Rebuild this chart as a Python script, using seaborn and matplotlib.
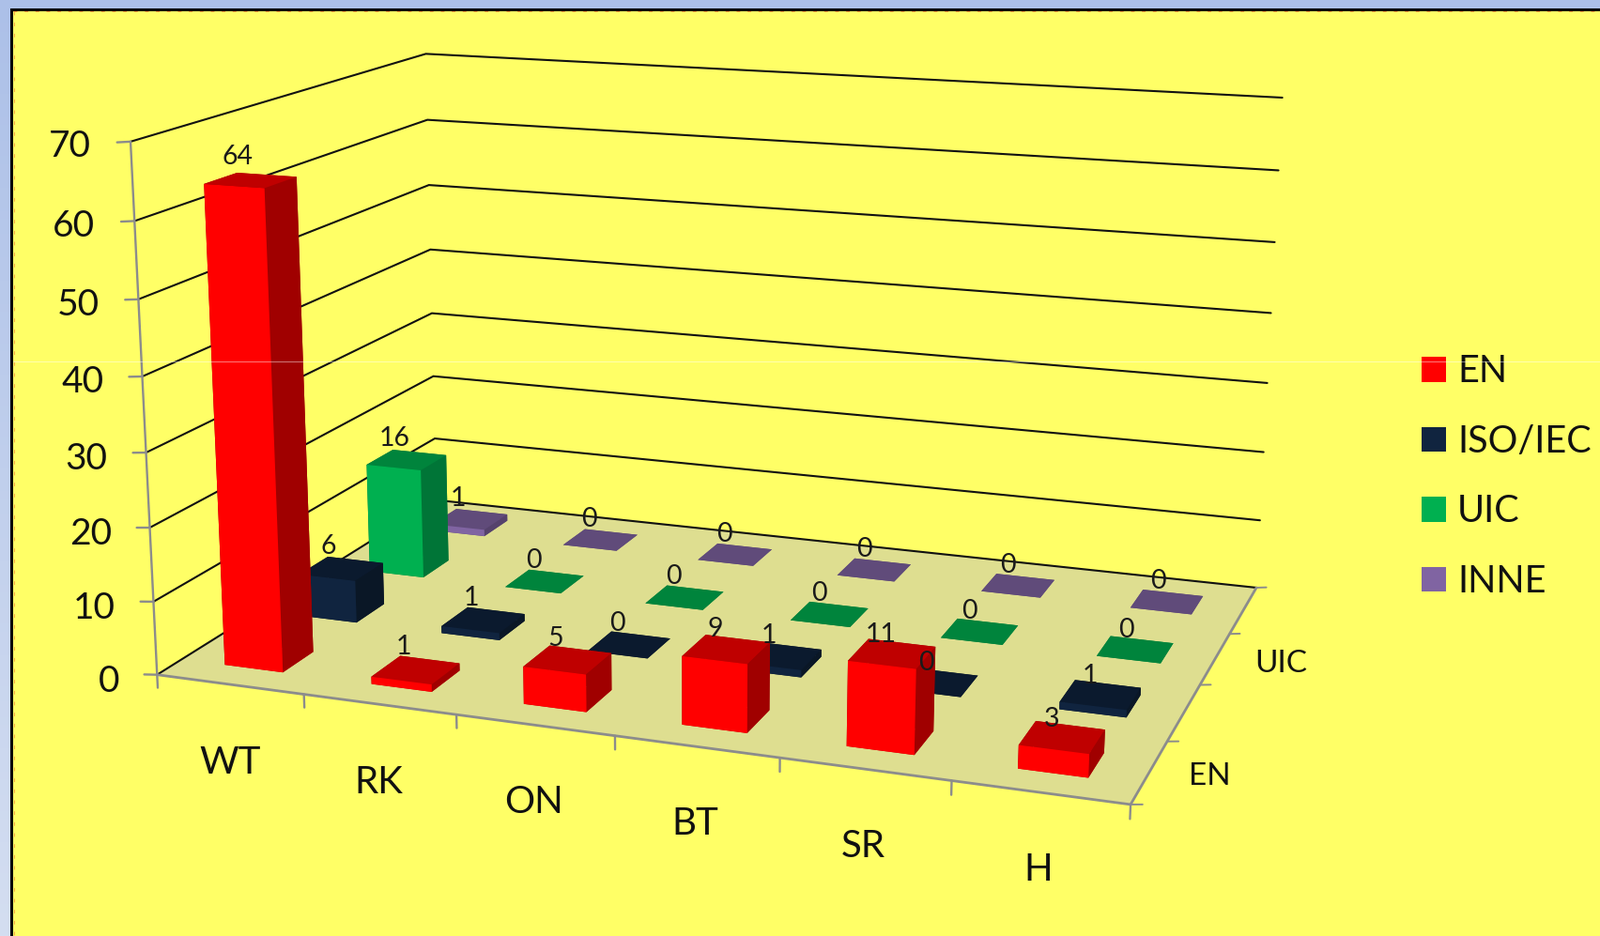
import numpy as np
import pandas as pd
import seaborn as sns
import matplotlib
matplotlib.use("Agg")
import matplotlib.pyplot as plt
from matplotlib.lines import Line2D
from matplotlib.patches import Patch, Rectangle
from mpl_toolkits.mplot3d.art3d import Poly3DCollection

# Chart data
categories = ["WT", "RK", "ON", "BT", "SR", "H"]
series_names = ["EN", "ISO/IEC", "UIC", "INNE"]
en_values = [64, 1, 5, 9, 11, 3]
iso_values = [6, 1, 0, 1, 0, 1]
uic_values = [16, 0, 0, 0, 0, 0]
inne_values = [1, 0, 0, 0, 0, 0]
z_ticks = [0, 10, 20, 30, 40, 50, 60, 70]
depth_tick_labels = ["EN", "", "UIC", ""]

# Bar shading: front, top and side face per series
front_colors = ["#FF0000", "#10243F", "#00B050", "#8064A2"]
top_colors = ["#BF0000", "#0B1A2E", "#00843C", "#604B7A"]
side_colors = ["#A00000", "#0A1726", "#007537", "#55426C"]

WIDTH, HEIGHT = 1704, 997
GRID_COLOR = "#111111"
AXIS_COLOR = "#8C8C8C"
FLOOR_COLOR = "#DEDE90"
PAGE_COLOR = "#FFFF66"
TEXT_COLOR = "#111111"

# Camera calibration: box coordinates (category, series, value) and their
# pixel location in the figure, used to solve a pinhole projection.
box_points = np.array([
    (0, 0, 0), (6, 0, 0), (6, 4, 0), (0, 4, 0),
    (0, 0, 70), (0, 4, 70), (6, 4, 70),
    (0, 0, 30), (0, 4, 30), (6, 4, 30), (0, 4, 10), (6, 4, 10),
    (1, 0, 0), (2, 0, 0), (3, 0, 0), (4, 0, 0), (5, 0, 0),
    (6, 1, 0), (6, 2, 0), (6, 3, 0),
], dtype=float)
pixel_points = np.array([
    (167.2, 718.7), (1204.5, 856.0), (1337.5, 626.0), (464.5, 532.5),
    (138.5, 150.7), (453.5, 57.7), (1365.7, 104.0),
    (156.0, 482.0), (460.0, 333.7), (1350.0, 407.6), (463.0, 466.7), (1342.3, 554.0),
    (323.4, 739.6), (486.3, 761.6), (655.6, 784.0), (830.8, 806.7), (1013.0, 831.7),
    (1242.4, 790.0), (1278.0, 730.0), (1309.4, 675.7),
], dtype=float)


def solve_camera(world, image):
    """Direct linear transform from box coordinates to pixels."""
    w_scale = np.array([6.0, 4.0, 70.0])
    i_scale = np.array([WIDTH, HEIGHT], dtype=float)
    rows = []
    for (X, Y, Z), (u, v) in zip(world / w_scale, image / i_scale):
        rows.append([X, Y, Z, 1, 0, 0, 0, 0, -u * X, -u * Y, -u * Z, -u])
        rows.append([0, 0, 0, 0, X, Y, Z, 1, -v * X, -v * Y, -v * Z, -v])
    p = np.linalg.svd(np.array(rows))[2][-1].reshape(3, 4)
    p = np.diag([WIDTH, HEIGHT, 1.0]) @ p @ np.diag([*(1 / w_scale), 1.0])
    if (p @ np.array([3.0, 2.0, 0.0, 1.0]))[2] < 0:
        p = -p
    return p


pixel_camera = solve_camera(box_points, pixel_points)


def to_px(x, y, z):
    """Project a box coordinate to figure pixels, measured from the top left."""
    u, v, w = pixel_camera @ np.array([x, y, z, 1.0])
    return u / w, v / w


sns.set_theme(style="white")
plt.rcParams["font.family"] = ["Lato", "Open Sans", "DejaVu Sans"]

values = pd.DataFrame(
    {"EN": en_values, "ISO/IEC": iso_values, "UIC": uic_values, "INNE": inne_values},
    index=categories,
)
palette = sns.color_palette(front_colors)

fig = plt.figure(figsize=(WIDTH / 100, HEIGHT / 100), dpi=100)
fig.patch.set_facecolor("#B8CAEB")


def px_rect(x0, y0, x1, y1, color, z):
    fig.add_artist(Rectangle((x0 / WIDTH, 1 - y1 / HEIGHT), (x1 - x0) / WIDTH, (y1 - y0) / HEIGHT,
                             transform=fig.transFigure, facecolor=color, edgecolor="none", zorder=z))


def px_line(x0, y0, x1, y1, z, **kw):
    fig.add_artist(Line2D([x0 / WIDTH, x1 / WIDTH], [1 - y0 / HEIGHT, 1 - y1 / HEIGHT],
                          transform=fig.transFigure, zorder=z, **kw))


def px_text(pos, label, **kw):
    fig.text(pos[0] / WIDTH, 1 - pos[1] / HEIGHT, label, **kw)


# Slide frame behind the chart
sky_top, sky_bottom = np.array([172, 192, 232]), np.array([212, 222, 241])
sky = sky_top + np.linspace(0, 1, HEIGHT)[:, None, None] * (sky_bottom - sky_top)
fig.figimage(np.repeat(sky, WIDTH, axis=1) / 255.0, zorder=-5)
px_rect(11, 9, WIDTH, HEIGHT, "#000000", -4)
px_rect(14, 12, WIDTH, HEIGHT, PAGE_COLOR, -3)
px_line(14, 12.5, WIDTH, 12.5, -2, color="#FF7A30", lw=0.7, dashes=(4, 8), alpha=0.7)
px_line(14.5, 12, 14.5, HEIGHT, -2, color="#FF7A30", lw=0.7, dashes=(4, 8), alpha=0.7)

# The 3D view needs a square axes, so it is made large enough to hold the whole figure
side = WIDTH / HEIGHT
ax = fig.add_axes([0, (1 - side) / 2, 1, side], projection="3d")
ax.set_axis_off()
ax.patch.set_visible(False)
ax.computed_zorder = False

# Floor
floor = Poly3DCollection([[(0, 0, 0), (6, 0, 0), (6, 4, 0), (0, 4, 0)]],
                         facecolors=FLOOR_COLOR, edgecolors="none", zorder=1)
ax.add_collection3d(floor)

# Gridlines on the two walls
for z in z_ticks:
    ax.plot([0, 0, 6], [0, 4, 4], [z, z, z], color=GRID_COLOR, lw=1.5, zorder=2,
            solid_joinstyle="miter")

# Axis lines, tick marks and tick labels
ax.plot([0, 0], [0, 0], [0, 70], color=AXIS_COLOR, lw=1.7, zorder=3)
ax.plot([0, 6, 6], [0, 0, 4], [0, 0, 0], color=AXIS_COLOR, lw=2.0, zorder=3)
for z in z_ticks:
    ax.plot([-0.09, 0], [0, 0], [z - 0.2, z], color=AXIS_COLOR, lw=1.7, zorder=3)
    px_text(to_px(-0.18, -0.139, z - 0.4), str(z), ha="right", va="center", fontsize=28,
            color=TEXT_COLOR)
for i in range(len(categories) + 1):
    ax.plot([i, i], [0, 0], [0, -1.8], color=AXIS_COLOR, lw=1.7, zorder=3)
for j in range(len(series_names) + 1):
    ax.plot([6, 6.065], [j, j], [0, 0.2], color=AXIS_COLOR, lw=1.4, zorder=3)

for i, name in enumerate(categories):
    anchor = to_px(i + 0.49 + 0.005 * (i - 2.5), 0, -10.8 + 0.22 * i)
    px_text(anchor, name, ha="center", va="center", fontsize=29, color=TEXT_COLOR)
for j, name in enumerate(depth_tick_labels):
    if name:
        edge_x, edge_y = to_px(6, j + 0.5, 0)
        px_text((edge_x + 64 + 3 * j, edge_y + 5), name, ha="center", va="center", fontsize=24,
                color=TEXT_COLOR)

# Bars, painted from the back row forward
BAR_SIZE = 0.4
order = 10
for j in reversed(range(len(series_names))):
    name = series_names[j]
    for i, cat in enumerate(categories):
        height = values.loc[cat, name]
        x0 = i + 0.5 - BAR_SIZE / 2
        y0 = j + 0.5 - BAR_SIZE / 2
        faces = [top_colors[j], top_colors[j], palette[j], side_colors[j], side_colors[j], side_colors[j]]
        ax.bar3d(x0, y0, 0, BAR_SIZE, BAR_SIZE, height, color=faces, shade=False,
                 linewidth=0, zorder=order)
        order += 1
        # Value labels sit over the rear-left corner of each bar top, drifting
        # slightly towards the viewer further along the category axis
        drop = (2 + 0.4 * i * (3 - j) - 0.08 * height) / 7
        anchor = to_px(x0 + 0.015 + 0.017 * i - 0.008 * (j < 2), y0 + BAR_SIZE, height - drop)
        px_text(anchor, str(height), ha="center", va="bottom", fontsize=20.5, color="#1A1A1A")

# Legend
LEGEND_SIZE = 28.5
font_px = LEGEND_SIZE * 100 / 72
handles = [Patch(facecolor=palette[k], edgecolor="none", label=series_names[k]) for k in range(4)]
fig.legend(handles=handles, loc="upper left", bbox_to_anchor=(1514 / WIDTH, 1 - 377.3 / HEIGHT),
           frameon=False, fontsize=LEGEND_SIZE, handlelength=26 / font_px, handleheight=26 / font_px,
           handletextpad=12 / font_px, labelspacing=0.948, borderpad=0, borderaxespad=0,
           labelcolor=TEXT_COLOR)

# Faint horizontal streak across the slide
px_line(14, 385, WIDTH, 385, 20, color="#FFFFFF", lw=0.8, alpha=0.45)

# Install the solved camera in place of the default view
ax.apply_aspect()
to_axes = ax.transData.inverted()
origin = to_axes.transform((0, HEIGHT))
ux = to_axes.transform((1, HEIGHT)) - origin
uy = to_axes.transform((0, HEIGHT - 1)) - origin
pixel_to_axes = np.array([[ux[0], uy[0], origin[0]], [ux[1], uy[1], origin[1]], [0, 0, 1]])
camera = pixel_to_axes @ pixel_camera
projection = np.array([camera[0], camera[1], [0, 0, 0, -1.0], camera[2]])
ax.get_proj = lambda: projection

fig.savefig("out.png", dpi=100, facecolor=fig.get_facecolor())
